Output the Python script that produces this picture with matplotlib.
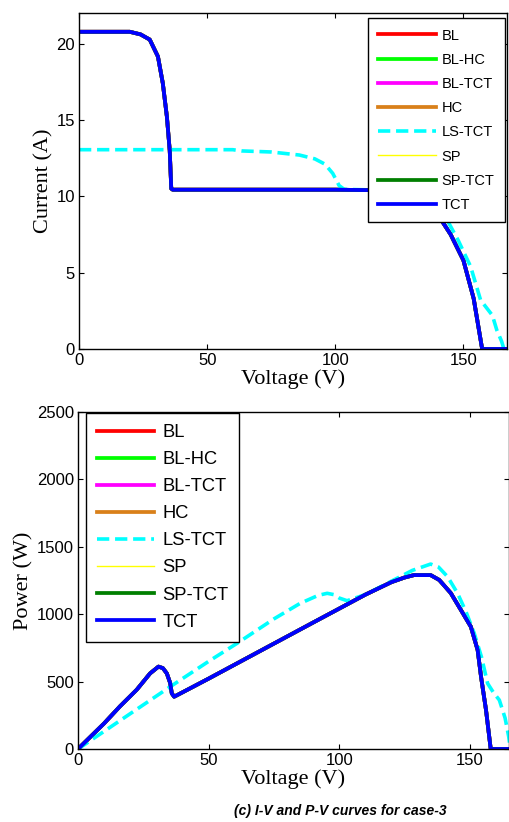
import matplotlib
matplotlib.use("Agg")
import matplotlib.pyplot as plt

# ---- I-V data (voltage in V, current in A) ----
# The BL, BL-HC, BL-TCT, HC, SP, SP-TCT and TCT configurations share one curve
iv_voltage = [0, 10, 19.8, 24, 27.6, 30.8, 32.7, 34.3, 35.4, 36.0, 36.6, 60, 100,
              115, 120, 125, 130, 135, 140, 145, 150, 154, 157.3, 167]
iv_current = [20.77, 20.77, 20.77, 20.6, 20.26, 19.15, 17.4, 15.2, 13.0, 10.5, 10.43,
              10.43, 10.43, 10.4, 10.33, 10.2, 9.95, 9.5, 8.8, 7.5, 5.8, 3.3, 0, 0]

ls_iv_voltage = [0, 60, 63.4, 75, 86, 92, 96, 99, 101.5, 103.5, 120, 130, 135, 140,
                 143.6, 148, 152.8, 156.7, 159, 161.3, 163, 164.9, 165.8, 167]
ls_iv_current = [13.05, 13.05, 12.97, 12.9, 12.7, 12.45, 12.1, 11.5, 10.7, 10.45, 10.4,
                 10.25, 10.1, 9.3, 8.46, 7.1, 5.4, 3.2, 2.7, 2.2, 1.25, 0.5, 0, 0]

# ---- P-V data (voltage in V, power in W) ----
pv_voltage = [0, 10, 16, 22.5, 27.6, 30.8, 32.5, 34.0, 35.3, 35.9, 36.8, 38, 50, 70,
              90, 110, 120, 125, 128.6, 135, 138.3, 142.7, 146.6, 150.4, 153, 154.3,
              156.2, 158, 165]
pv_power = [0, 190, 315, 440, 561, 611, 600, 561, 489, 413, 388, 400, 522, 730,
            938, 1145, 1238, 1272, 1290, 1290, 1254, 1157, 1031, 907, 734, 536,
            289, 0, 0]

ls_pv_voltage = [0, 20, 35.3, 50, 60.9, 75, 85, 92, 95.4, 98, 100, 103, 110, 120,
                 128, 135, 138, 141.5, 145.3, 148.5, 151.7, 154.5, 156.8, 159, 161.3,
                 163.5, 164.9, 165.5]
ls_pv_power = [0, 262, 462, 650, 784, 965, 1080, 1140, 1155, 1145, 1120, 1100, 1145,
               1245, 1325, 1372, 1350, 1278, 1155, 1020, 858, 680, 487, 420, 363,
               230, 91, 0]

configs = ["BL", "BL-HC", "BL-TCT", "HC", "LS-TCT", "SP", "SP-TCT", "TCT"]
colors = {"BL": "#ff0000", "BL-HC": "#00ff00", "BL-TCT": "#ff00ff", "HC": "#d9801a",
          "LS-TCT": "#00ffff", "SP": "#ffff00", "SP-TCT": "#007f00", "TCT": "#0000ff"}

iv_xticks = [0, 50, 100, 150]
iv_yticks = [0, 5, 10, 15, 20]
pv_xticks = [0, 50, 100, 150]
pv_yticks = [0, 500, 1000, 1500, 2000, 2500]

SANS = ["Liberation Sans", "DejaVu Sans"]
SERIF = ["Liberation Serif", "DejaVu Serif"]

W, H = 510, 822
fig = plt.figure(figsize=(W / 100, H / 100), dpi=100)
ax1 = fig.add_axes([79 / W, (H - 349) / H, (507 - 79) / W, 336 / H])
ax2 = fig.add_axes([78 / W, (H - 749) / H, (509 - 78) / W, 337 / H])


def draw(ax, xs, ys, ls_x, ls_y):
    for name in configs:
        if name == "LS-TCT":
            line, = ax.plot(ls_x, ls_y, color=colors[name], lw=2.6, label=name)
            line.set_dashes((3.4, 1.6))
        else:
            lw = 1.0 if name == "SP" else 2.7
            ax.plot(xs, ys, color=colors[name], lw=lw, label=name,
                    solid_joinstyle="round")


def style(ax, xticks, yticks, xlim, ylim):
    ax.set_xlim(*xlim)
    ax.set_ylim(*ylim)
    ax.set_xticks(xticks)
    ax.set_yticks(yticks)
    ax.tick_params(direction="in", top=True, right=True, length=3.5, width=0.8,
                   labelsize=12, pad=3)
    for lab in ax.get_xticklabels() + ax.get_yticklabels():
        lab.set_family(SANS)
    for sp in ax.spines.values():
        sp.set_linewidth(1.0)


draw(ax1, iv_voltage, iv_current, ls_iv_voltage, ls_iv_current)
style(ax1, iv_xticks, iv_yticks, (0, 167), (0, 22))
ax1.set_xlabel("Voltage (V)", family=SERIF, fontsize=16, labelpad=1)
ax1.set_ylabel("Current (A)", family=SERIF, fontsize=16, labelpad=2)
leg1 = ax1.legend(loc="upper right", bbox_to_anchor=(0.995, 0.985),
                  prop={"family": SANS, "size": 10.5}, handlelength=4.0,
                  handletextpad=0.35, labelspacing=0.7, borderpad=0.72,
                  borderaxespad=0, fancybox=False, framealpha=1, edgecolor="black")
leg1.get_frame().set_linewidth(1.0)

draw(ax2, pv_voltage, pv_power, ls_pv_voltage, ls_pv_power)
style(ax2, pv_xticks, pv_yticks, (0, 165), (0, 2500))
ax2.set_xlabel("Voltage (V)", family=SERIF, fontsize=16, labelpad=1)
ax2.set_ylabel("Power (W)", family=SERIF, fontsize=16, labelpad=2)
leg2 = ax2.legend(loc="upper left", bbox_to_anchor=(0.019, 0.997),
                  prop={"family": SANS, "size": 13.2}, handlelength=3.1,
                  handletextpad=0.45, labelspacing=0.55, borderpad=0.6,
                  borderaxespad=0, fancybox=False, framealpha=1, edgecolor="black")
leg2.get_frame().set_linewidth(1.0)

fig.text(340 / W, 1 - 811 / H, "(c) I-V and P-V curves for case-3", ha="center",
         va="center", family=SANS, fontsize=10, fontweight="bold", style="italic")

fig.savefig("out.png", dpi=100)
